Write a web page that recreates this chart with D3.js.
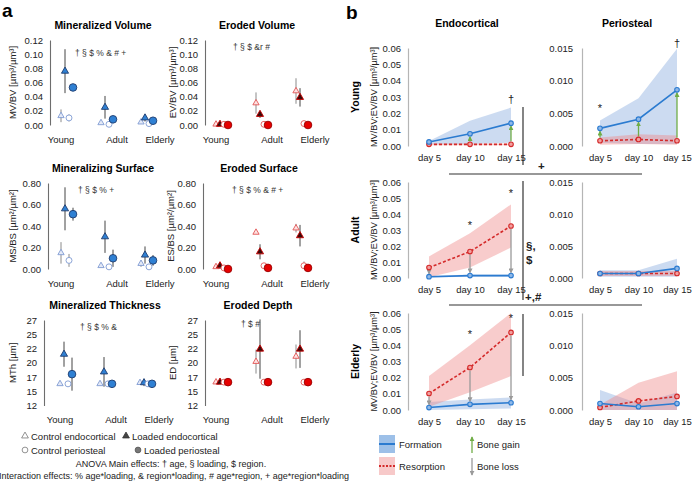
<!DOCTYPE html>
<html lang="en">
<head>
<meta charset="utf-8">
<script src="https://d3js.org/d3.v7.min.js"></script>
<style>
  body { margin: 0; background: #fff; }
  svg { font-family: "Liberation Sans", Arial, sans-serif; }
</style>
</head>
<body>
<script>
var w = 700, h = 482;

// ---------- panel a data ----------
var ages = ["Young", "Adult", "Elderly"];
var series = ["ctrlEndo", "loadEndo", "ctrlPeri", "loadPeri"];

// rows = ctrlEndo, loadEndo, ctrlPeri, loadPeri ; cols = Young, Adult, Elderly
var mvMean = [[0.013, 0.003, 0.004], [0.076, 0.025, 0.010], [0.010, 0.001, 0.002], [0.053, 0.008, 0.006]];
var mvErr  = [[0.009, 0.001, 0.001], [0.031, 0.016, 0.005], [0.005, 0.001, 0.001], [0.004, 0.003, 0.002]];

var evMean = [[0.001, 0.031, 0.048], [0.001, 0.015, 0.039], [0.001, 0.001, 0.002], [0.000, 0.000, 0.000]];
var evErr  = [[0.000, 0.015, 0.018], [0.003, 0.005, 0.013], [0.000, 0.001, 0.003], [0.000, 0.000, 0.000]];

var msMean = [[0.15, 0.03, 0.05], [0.56, 0.30, 0.13], [0.08, 0.02, 0.02], [0.51, 0.10, 0.08]];
var msErr  = [[0.10, 0.01, 0.03], [0.20, 0.15, 0.08], [0.06, 0.01, 0.01], [0.06, 0.08, 0.05]];

var esMean = [[0.02, 0.34, 0.38], [0.03, 0.16, 0.31], [0.01, 0.03, 0.03], [0.00, 0.01, 0.01]];
var esErr  = [[0.00, 0.00, 0.04], [0.03, 0.07, 0.10], [0.00, 0.01, 0.04], [0.00, 0.00, 0.00]];

var mthMean = [[15.8, 15.8, 16.0], [21.0, 17.9, 16.0], [15.8, 15.8, 15.8], [17.5, 15.8, 15.8]];
var mthErr  = [[0.0, 0.0, 0.0], [2.2, 2.6, 0.6], [0.0, 0.0, 0.0], [2.9, 0.0, 0.0]];

var edMean = [[16.1, 19.7, 20.6], [16.1, 21.9, 21.9], [16.1, 16.1, 16.1], [16.1, 16.1, 16.1]];
var edErr  = [[0.0, 2.1, 2.1], [0.0, 5.2, 3.3], [0.0, 0.0, 0.0], [0.0, 0.0, 0.0]];

var ticksVol = [0, 0.02, 0.04, 0.06, 0.08, 0.10, 0.12];
var ticksSurf = [0, 0.2, 0.4, 0.6, 0.8];
var ticksThick = [12, 14.5, 17, 19.5, 22, 24.5, 27];

// ---------- panel b data ----------
var days = ["day 5", "day 10", "day 15"];
// [mean, lo, hi] per day
var youngEndoForm = [[0.0025, 0.0010, 0.0030], [0.0075, 0.0012, 0.0155], [0.0140, 0.0020, 0.0235]];
var youngEndoRes  = [[0.0010, 0.0005, 0.0015], [0.0010, 0.0005, 0.0015], [0.0010, 0.0005, 0.0015]];
var youngPeriForm = [[0.0027, 0.0005, 0.0039], [0.0041, 0.0003, 0.0073], [0.0086, 0.0003, 0.0149]];
var youngPeriRes  = [[0.0008, 0.0002, 0.0013], [0.0010, 0.0003, 0.0018], [0.0008, 0.0002, 0.0016]];
var adultEndoForm = [[0.0008, 0.0003, 0.0013], [0.0015, 0.0008, 0.0022], [0.0015, 0.0008, 0.0022]];
var adultEndoRes  = [[0.0065, 0.0005, 0.0135], [0.0165, 0.0065, 0.0280], [0.0325, 0.0190, 0.0460]];
var adultPeriForm = [[0.0007, 0.0002, 0.0012], [0.0007, 0.0002, 0.0012], [0.0015, 0.0002, 0.0030]];
var adultPeriRes  = [[0.0007, 0.0003, 0.0011], [0.0007, 0.0003, 0.0011], [0.0007, 0.0003, 0.0011]];
var elderlyEndoForm = [[0.0015, 0.0000, 0.0050], [0.0035, 0.0005, 0.0065], [0.0045, 0.0010, 0.0078]];
var elderlyEndoRes  = [[0.0102, 0.0020, 0.0210], [0.0263, 0.0110, 0.0400], [0.0480, 0.0210, 0.0600]];
var elderlyPeriForm = [[0.0010, 0.0000, 0.0031], [0.0005, 0.0000, 0.0010], [0.0010, 0.0000, 0.0027]];
var elderlyPeriRes  = [[0.0004, 0.0000, 0.0008], [0.0014, 0.0000, 0.0042], [0.0021, 0.0000, 0.0060]];

// bone gain / loss arrows: [age, region, day]
var arrowsB = [
  ["Young", "Endocortical", "day 10"], ["Young", "Endocortical", "day 15"],
  ["Young", "Periosteal", "day 5"], ["Young", "Periosteal", "day 10"], ["Young", "Periosteal", "day 15"],
  ["Adult", "Endocortical", "day 5"], ["Adult", "Endocortical", "day 10"], ["Adult", "Endocortical", "day 15"],
  ["Elderly", "Endocortical", "day 5"], ["Elderly", "Endocortical", "day 10"], ["Elderly", "Endocortical", "day 15"]
];
// significance marks: [age, region, day, symbol, value]
var marksB = [
  ["Young", "Endocortical", "day 15", "\u2020", 0.0285],
  ["Young", "Periosteal", "day 5", "*", 0.0058],
  ["Young", "Periosteal", "day 15", "\u2020", 0.0158],
  ["Adult", "Endocortical", "day 10", "*", 0.0330],
  ["Adult", "Endocortical", "day 15", "*", 0.0530],
  ["Elderly", "Endocortical", "day 10", "*", 0.0470],
  ["Elderly", "Endocortical", "day 15", "*", 0.0570]
];

//Create SVG element
var svg = d3.select("body").append("svg")
  .attr("width", w)
  .attr("height", h);

svg.append("text").attr("x", 2).attr("y", 17).text("a")
  .style("font-weight", "bold").style("font-size", "19px");
svg.append("text").attr("x", 346).attr("y", 19).text("b")
  .style("font-weight", "bold").style("font-size", "19px");

// ---------- panel a ----------
var palettes = {
  blue: {
    ctrlEndo: { tri: true, fill: "#e4e9f6", stroke: "#7f9bd3" },
    loadEndo: { tri: true, fill: "#2f80d3", stroke: "#1f3c6e" },
    ctrlPeri: { tri: false, fill: "#ffffff", stroke: "#7f9bd3" },
    loadPeri: { tri: false, fill: "#2f80d3", stroke: "#1f3c6e" }
  },
  red: {
    ctrlEndo: { tri: true, fill: "#fde2e2", stroke: "#e25555" },
    loadEndo: { tri: true, fill: "#3a0a0a", stroke: "#c80000" },
    ctrlPeri: { tri: false, fill: "#ffffff", stroke: "#e25555" },
    loadPeri: { tri: false, fill: "#e60000", stroke: "#980000" }
  }
};

var groupX = d3.scalePoint().domain(ages).range([17, 97]);
var seriesX = d3.scalePoint().domain(series).range([-6, 6]);
var labelX = d3.scaleOrdinal().domain(ages).range([11, 67, 110]);

function dotChart(c) {
  var g = svg.append("g");
  var y = d3.scaleLinear().domain([c.ticks[0], c.ticks[c.ticks.length - 1]]).range([c.yBot, c.yTop]);

  g.append("text")
    .attr("x", c.titleX).attr("y", c.yTop - 15)
    .attr("text-anchor", "middle").attr("dominant-baseline", "central")
    .style("font-size", "10.5px").style("font-weight", "bold")
    .text(c.title);

  var ax = g.append("g")
    .attr("transform", "translate(" + c.axisX + ",0)")
    .call(d3.axisLeft(y).tickValues(c.ticks).tickFormat(d3.format(c.fmt)).tickSize(0).tickPadding(7));
  ax.select(".domain").attr("stroke", "#6d6d6d").attr("stroke-width", 1.1);
  ax.selectAll("text").style("font-size", "9.5px").attr("fill", "#222");

  g.append("text")
    .attr("transform", "translate(" + c.yLabelX + "," + (c.yTop + c.yBot) / 2 + ") rotate(-90)")
    .attr("text-anchor", "middle").attr("dominant-baseline", "central")
    .style("font-size", "9.5px").attr("fill", "#222")
    .text(c.yLabel);

  g.selectAll(".cat").data(ages).enter().append("text")
    .attr("x", function(d) { return c.x0 + labelX(d); })
    .attr("y", c.yBot + 14)
    .attr("text-anchor", "middle").attr("dominant-baseline", "central")
    .style("font-size", "9.5px").attr("fill", "#222")
    .text(function(d) { return d; });

  g.append("text")
    .attr("x", c.x0 + c.noteDx).attr("y", c.noteY)
    .attr("dominant-baseline", "central")
    .style("font-size", "8.5px").attr("fill", "#333")
    .text(c.note);

  var pts = [];
  series.forEach(function(s, i) {
    ages.forEach(function(a, j) {
      pts.push({ s: s, a: a, m: c.mean[i][j], e: c.err[i][j] });
    });
  });
  var pal = palettes[c.pal];
  var px = function(d) { return c.x0 + groupX(d.a) + seriesX(d.s); };

  g.selectAll(".err").data(pts.filter(function(d) { return d.e > 0; })).enter().append("line")
    .attr("x1", px).attr("x2", px)
    .attr("y1", function(d) { return y(d.m + d.e); })
    .attr("y2", function(d) { return y(Math.max(c.ticks[0], d.m - d.e)); })
    .attr("stroke", function(d) { return d.s.indexOf("load") === 0 ? "#444" : "#8a8a8a"; })
    .attr("stroke-width", 1);

  g.selectAll(".pt").data(pts).enter().append("path")
    .attr("transform", function(d) { return "translate(" + px(d) + "," + y(d.m) + ")"; })
    .attr("d", function(d) {
      var p = pal[d.s];
      var loaded = d.s.indexOf("load") === 0;
      return d3.symbol().type(p.tri ? d3.symbolTriangle : d3.symbolCircle)
        .size(p.tri ? (loaded ? 22 : 17) : (loaded ? 46 : 28))();
    })
    .attr("fill", function(d) { return pal[d.s].fill; })
    .attr("stroke", function(d) { return pal[d.s].stroke; })
    .attr("stroke-width", 0.9);
}

var charts = [
  { title: "Mineralized Volume", titleX: 103, x0: 50, axisX: 50, yTop: 40, yBot: 125, ticks: ticksVol, fmt: ".2f",
    yLabel: "MV/BV [\u00b5m\u00b3/\u00b5m\u00b3]", yLabelX: 12, mean: mvMean, err: mvErr, pal: "blue",
    note: "\u2020 \u00a7 $ % & # +", noteDx: 25, noteY: 53 },
  { title: "Eroded Volume", titleX: 257, x0: 205, axisX: 205, yTop: 40, yBot: 125, ticks: ticksVol, fmt: ".2f",
    yLabel: "EV/BV [\u00b5m\u00b3/\u00b5m\u00b3]", yLabelX: 172, mean: evMean, err: evErr, pal: "red",
    note: "\u2020 \u00a7 $ &r #", noteDx: 28, noteY: 47 },
  { title: "Mineralizing Surface", titleX: 103, x0: 50, axisX: 48, yTop: 183, yBot: 269, ticks: ticksSurf, fmt: ".2f",
    yLabel: "MS/BS [\u00b5m\u00b2/\u00b5m\u00b2]", yLabelX: 12, mean: msMean, err: msErr, pal: "blue",
    note: "\u2020 \u00a7 $ % +", noteDx: 28, noteY: 190 },
  { title: "Eroded Surface", titleX: 259, x0: 205, axisX: 203, yTop: 183, yBot: 269, ticks: ticksSurf, fmt: ".2f",
    yLabel: "ES/BS [\u00b5m\u00b2/\u00b5m\u00b2]", yLabelX: 170, mean: esMean, err: esErr, pal: "red",
    note: "\u2020 \u00a7 $ % & # +", noteDx: 27, noteY: 190 },
  { title: "Mineralized Thickness", titleX: 105, x0: 49, axisX: 44, yTop: 320, yBot: 405.5, ticks: ticksThick, fmt: ".0f",
    yLabel: "MTh [\u00b5m]", yLabelX: 12, mean: mthMean, err: mthErr, pal: "blue",
    note: "\u2020 \u00a7 $ % &", noteDx: 31, noteY: 327 },
  { title: "Eroded Depth", titleX: 258, x0: 205, axisX: 205, yTop: 320, yBot: 405.5, ticks: ticksThick, fmt: ".0f",
    yLabel: "ED [\u00b5m]", yLabelX: 172, mean: edMean, err: edErr, pal: "red",
    note: "\u2020 $ #", noteDx: 36, noteY: 324 }
];
charts.forEach(dotChart);

// legend for panel a
var legA = [
  { s: "ctrlEndo", x: 25, y: 436, label: "Control endocortical" },
  { s: "loadEndo", x: 126, y: 436, label: "Loaded endocortical" },
  { s: "ctrlPeri", x: 25, y: 450, label: "Control periosteal" },
  { s: "loadPeri", x: 138, y: 450, label: "Loaded periosteal" }
];
var legStyle = {
  ctrlEndo: { tri: true, fill: "#fff", stroke: "#777" },
  loadEndo: { tri: true, fill: "#444", stroke: "#333" },
  ctrlPeri: { tri: false, fill: "#fff", stroke: "#777" },
  loadPeri: { tri: false, fill: "#777", stroke: "#555" }
};
legA.forEach(function(d) {
  var st = legStyle[d.s];
  svg.append("path")
    .attr("transform", "translate(" + d.x + "," + d.y + ")")
    .attr("d", d3.symbol().type(st.tri ? d3.symbolTriangle : d3.symbolCircle).size(st.tri ? 20 : 26)())
    .attr("fill", st.fill).attr("stroke", st.stroke).attr("stroke-width", 0.8);
  svg.append("text").attr("x", d.x + 6).attr("y", d.y)
    .attr("dominant-baseline", "central")
    .style("font-size", "9.5px").attr("fill", "#222")
    .text(d.label);
});
svg.append("text").attr("x", 171).attr("y", 464)
  .attr("text-anchor", "middle").attr("dominant-baseline", "central")
  .style("font-size", "9px").attr("fill", "#222")
  .text("ANOVA Main effects: \u2020 age, \u00a7 loading, $ region.");
svg.append("text").attr("x", 174).attr("y", 476)
  .attr("text-anchor", "middle").attr("dominant-baseline", "central")
  .style("font-size", "9px").attr("fill", "#222")
  .text("Interaction effects: % age*loading, & region*loading, # age*region, + age*region*loading");

// ---------- panel b ----------
var defs = svg.append("defs");
[["gainHead", "#70ad47"], ["lossHead", "#9a9a9a"]].forEach(function(m) {
  defs.append("marker")
    .attr("id", m[0]).attr("viewBox", "0 0 6 6")
    .attr("refX", 5).attr("refY", 3)
    .attr("markerWidth", 5).attr("markerHeight", 5)
    .attr("markerUnits", "userSpaceOnUse")
    .attr("orient", "auto")
    .append("path").attr("d", "M0,0L6,3L0,6Z").attr("fill", m[1]);
});

var cols = {
  Endocortical: { axisX: 408, xr: [429, 511], domain: [0, 0.06], step: 0.01, fmt: ".2f", pad: 7, titleX: 467 },
  Periosteal: { axisX: 582, xr: [600, 677], domain: [0, 0.015], step: 0.005, fmt: ".3f", pad: 9, titleX: 627 }
};
var rows = {
  Young: { yr: [146, 48], form: { Endocortical: youngEndoForm, Periosteal: youngPeriForm }, res: { Endocortical: youngEndoRes, Periosteal: youngPeriRes } },
  Adult: { yr: [278, 182], form: { Endocortical: adultEndoForm, Periosteal: adultPeriForm }, res: { Endocortical: adultEndoRes, Periosteal: adultPeriRes } },
  Elderly: { yr: [410, 313], form: { Endocortical: elderlyEndoForm, Periosteal: elderlyPeriForm }, res: { Endocortical: elderlyEndoRes, Periosteal: elderlyPeriRes } }
};

Object.keys(cols).forEach(function(cn) {
  svg.append("text").attr("x", cols[cn].titleX).attr("y", 23)
    .attr("text-anchor", "middle").attr("dominant-baseline", "central")
    .style("font-size", "10.5px").style("font-weight", "bold").text(cn);
});

var formColor = "#2b7bd0", resColor = "#d42a2a";

function linePanel(rn, cn) {
  var c = cols[cn], r = rows[rn];
  var g = svg.append("g");
  var x = d3.scalePoint().domain(days).range(c.xr);
  var y = d3.scaleLinear().domain(c.domain).range(r.yr);
  var tv = d3.range(c.domain[0], c.domain[1] + c.step / 2, c.step);

  var ay = g.append("g").attr("transform", "translate(" + c.axisX + ",0)")
    .call(d3.axisLeft(y).tickValues(tv).tickFormat(d3.format(c.fmt)).tickSize(0).tickPadding(c.pad));
  ay.select(".domain").attr("stroke", "#b5b5b5").attr("stroke-width", 1.2);
  ay.selectAll("text").style("font-size", "9.5px").attr("fill", "#222");

  var axb = g.append("g").attr("transform", "translate(0," + r.yr[0] + ")")
    .call(d3.axisBottom(x).tickSize(0).tickPadding(8));
  axb.select(".domain").remove();
  axb.selectAll("text").style("font-size", "9.5px").attr("fill", "#222");

  var sets = [
    { d: r.form[cn], color: formColor, band: "#7fa5dc", op: 0.4, dash: null },
    { d: r.res[cn], color: resColor, band: "#ee8585", op: 0.42, dash: "3,2" }
  ];
  // bands first
  sets.forEach(function(s) {
    var area = d3.area()
      .x(function(d, i) { return x(days[i]); })
      .y0(function(d) { return y(d[1]); })
      .y1(function(d) { return y(d[2]); });
    g.append("path").datum(s.d).attr("d", area)
      .attr("fill", s.band).attr("fill-opacity", s.op);
  });

  // gain / loss arrows
  var form = r.form[cn], res = r.res[cn];
  arrowsB.filter(function(a) { return a[0] === rn && a[1] === cn; }).forEach(function(a) {
    var i = days.indexOf(a[2]);
    var y1 = y(res[i][0]), y2 = y(form[i][0]);
    var gain = y2 < y1;
    g.append("line")
      .attr("x1", x(a[2])).attr("x2", x(a[2]))
      .attr("y1", y1 + (gain ? -3 : 3)).attr("y2", y2 + (gain ? 3 : -3))
      .attr("stroke", gain ? "#70ad47" : "#9a9a9a").attr("stroke-width", 1.3)
      .attr("marker-end", gain ? "url(#gainHead)" : "url(#lossHead)");
  });

  sets.slice().reverse().forEach(function(s) {
    var line = d3.line()
      .x(function(d, i) { return x(days[i]); })
      .y(function(d) { return y(d[0]); });
    g.append("path").datum(s.d).attr("d", line)
      .attr("fill", "none").attr("stroke", s.color).attr("stroke-width", 1.6)
      .attr("stroke-dasharray", s.dash);
    g.selectAll(null).data(s.d).enter().append("circle")
      .attr("cx", function(d, i) { return x(days[i]); })
      .attr("cy", function(d) { return y(d[0]); })
      .attr("r", 2.3)
      .attr("fill", s.dash ? "#f2a0a0" : "#8fb8e8").attr("stroke", s.color).attr("stroke-width", 1.1);
  });

  marksB.filter(function(m) { return m[0] === rn && m[1] === cn; }).forEach(function(m) {
    g.append("text").attr("x", x(m[2])).attr("y", y(m[4]))
      .attr("text-anchor", "middle").attr("dominant-baseline", "central")
      .style("font-size", "11px").attr("fill", "#222").text(m[3]);
  });
}

Object.keys(rows).forEach(function(rn) {
  var r = rows[rn];
  var mid = (r.yr[0] + r.yr[1]) / 2;
  svg.append("text")
    .attr("transform", "translate(355," + mid + ") rotate(-90)")
    .attr("text-anchor", "middle").attr("dominant-baseline", "central")
    .style("font-size", "10.5px").style("font-weight", "bold").text(rn);
  svg.append("text")
    .attr("transform", "translate(374," + mid + ") rotate(-90)")
    .attr("text-anchor", "middle").attr("dominant-baseline", "central")
    .style("font-size", "9.2px").attr("fill", "#222")
    .text("MV/BV;EV/BV [\u00b5m\u00b3/\u00b5m\u00b3]");
  Object.keys(cols).forEach(function(cn) { linePanel(rn, cn); });
});

// age*region brackets
var brk = svg.append("g").attr("stroke", "#333").attr("stroke-width", 1.2);
[[107, 165], [181, 300], [314, 376]].forEach(function(v) {
  brk.append("line").attr("x1", 523).attr("x2", 523).attr("y1", v[0]).attr("y2", v[1]);
});
[174, 305].forEach(function(yy) {
  brk.append("line").attr("x1", 449).attr("x2", 642).attr("y1", yy).attr("y2", yy);
});
var brkText = [[538, 166, "+"], [526, 246, "\u00a7,"], [526, 260, "$"], [525, 297, "+,#"]];
brkText.forEach(function(t) {
  svg.append("text").attr("x", t[0]).attr("y", t[1])
    .attr("dominant-baseline", "central")
    .style("font-size", "11.5px").style("font-weight", "bold").attr("fill", "#222").text(t[2]);
});

// legend for panel b
var lg = svg.append("g");
lg.append("rect").attr("x", 379).attr("y", 435).attr("width", 16).attr("height", 18).attr("fill", "#9dc0e8");
lg.append("line").attr("x1", 379).attr("x2", 395).attr("y1", 444).attr("y2", 444).attr("stroke", formColor).attr("stroke-width", 2);
lg.append("rect").attr("x", 379).attr("y", 457).attr("width", 16).attr("height", 18).attr("fill", "#f7c9c9");
lg.append("line").attr("x1", 379).attr("x2", 395).attr("y1", 466).attr("y2", 466).attr("stroke", resColor).attr("stroke-width", 2).attr("stroke-dasharray", "2,1.5");
lg.append("line").attr("x1", 472).attr("x2", 472).attr("y1", 453).attr("y2", 437)
  .attr("stroke", "#70ad47").attr("stroke-width", 1.3).attr("marker-end", "url(#gainHead)");
lg.append("line").attr("x1", 472).attr("x2", 472).attr("y1", 458).attr("y2", 475)
  .attr("stroke", "#9a9a9a").attr("stroke-width", 1.3).attr("marker-end", "url(#lossHead)");
[[399, 444, "Formation"], [399, 466, "Resorption"], [477, 444, "Bone gain"], [477, 466, "Bone loss"]].forEach(function(t) {
  lg.append("text").attr("x", t[0]).attr("y", t[1]).attr("dominant-baseline", "central")
    .style("font-size", "9.5px").attr("fill", "#222").text(t[2]);
});
</script>
</body>
</html>
